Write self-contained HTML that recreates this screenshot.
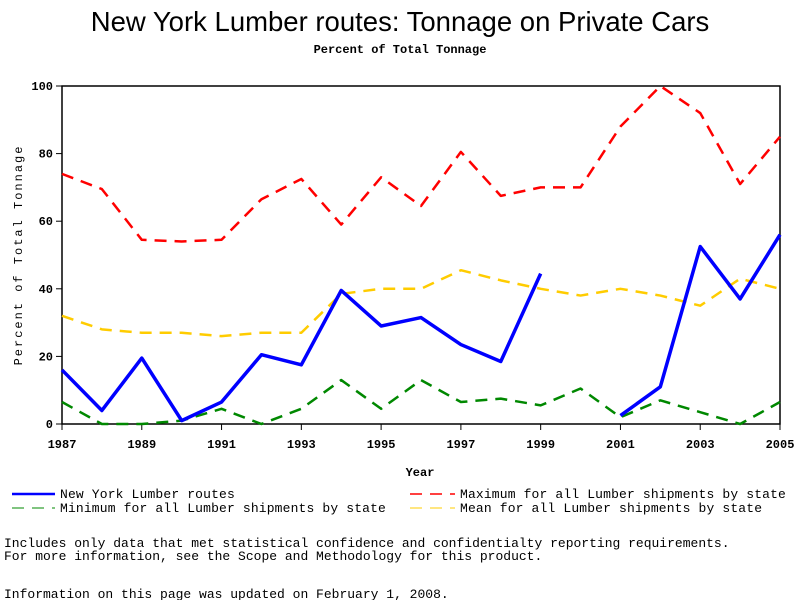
<!DOCTYPE html>
<html><head><meta charset="utf-8"><style>
body{margin:0;background:#fff;}
svg{display:block;}
text{font-family:"Liberation Mono",monospace;}
</style></head><body>
<svg id="chart" width="800" height="600" xmlns="http://www.w3.org/2000/svg">
<text x="400" y="31" text-anchor="middle" font-size="27.5" style="font-family:'Liberation Sans',sans-serif">New York Lumber routes: Tonnage on Private Cars</text>
<text x="400" y="53" text-anchor="middle" font-size="12" font-weight="bold">Percent of Total Tonnage</text>
<rect x="62" y="86" width="718" height="338" fill="none" stroke="#000" stroke-width="1.5"/>
<g id="yticks"></g>
<g id="xticks"></g>
<text transform="translate(22,255) rotate(-90)" text-anchor="middle" font-size="12" letter-spacing="2">Percent of Total Tonnage</text>
<text x="420" y="476" text-anchor="middle" font-size="12" font-weight="bold">Year</text>
<g id="series"></g>
<g font-size="13" letter-spacing="0.15">
<line x1="12" y1="494" x2="55" y2="494" stroke="#00f" stroke-width="2.5"/>
<text x="60" y="498">New York Lumber routes</text>
<line x1="12" y1="508" x2="55" y2="508" stroke="#080" stroke-width="1" stroke-dasharray="12,8"/>
<text x="60" y="512">Minimum for all Lumber shipments by state</text>
<line x1="410" y1="494" x2="455" y2="494" stroke="#f00" stroke-width="1.5" stroke-dasharray="12,8"/>
<text x="460" y="498">Maximum for all Lumber shipments by state</text>
<line x1="410" y1="508" x2="455" y2="508" stroke="#fc0" stroke-width="1" stroke-dasharray="12,8"/>
<text x="460" y="512">Mean for all Lumber shipments by state</text>
</g>
<text x="4" y="547" font-size="13">Includes only data that met statistical confidence and confidentialty reporting requirements.</text>
<text x="4" y="560" font-size="13">For more information, see the Scope and Methodology for this product.</text>
<text x="4" y="598" font-size="13">Information on this page was updated on February 1, 2008.</text>
</svg>
<script>
const years=[1987,1988,1989,1990,1991,1992,1993,1994,1995,1996,1997,1998,1999,2000,2001,2002,2003,2004,2005];
const nyValues=[16,4,19.5,1,6.5,20.5,17.5,39.5,29,31.5,23.5,18.5,44.5,null,2.5,11,52.5,37,56];
const maxValues=[74,69.5,54.5,54,54.5,66.5,72.5,59,73,64.5,80.5,67.5,70,70,88,100,92,71,85];
const meanValues=[32,28,27,27,26,27,27,38.5,40,40,45.5,42.5,40,38,40,38,35,43,40];
const minValues=[6.5,0,0,1,4.5,0,4.5,13,4.5,13,6.5,7.5,5.5,10.5,2,7,3.5,0,6.5];
const yTicks=[0,20,40,60,80,100];
const xTickLabels=[1987,1989,1991,1993,1995,1997,1999,2001,2003,2005];
const NS="http://www.w3.org/2000/svg";
const xs=y=>62+(y-1987)*(718/18);
const ys=v=>424-v*3.38;
function mk(tag,attrs,parent){const e=document.createElementNS(NS,tag);for(const k in attrs)e.setAttribute(k,attrs[k]);parent.appendChild(e);return e;}
const yg=document.getElementById('yticks'),xg=document.getElementById('xticks'),sg=document.getElementById('series');
yTicks.forEach(t=>{
 const l=mk('line',{x1:56,x2:62,y1:ys(t),y2:ys(t),stroke:'#000'},yg);
 
 
 const tx=mk('text',{x:53,y:ys(t)+4,'text-anchor':'end','font-size':12,'font-weight':'bold'},yg);
 tx.textContent=t;
 
 
});
xTickLabels.forEach(t=>{
 const l=mk('line',{x1:xs(t),x2:xs(t),y1:424,y2:430,stroke:'#000'},xg);
 
 
 const tx=mk('text',{x:xs(t),y:448,'text-anchor':'middle','font-size':12,'font-weight':'bold'},xg);
 tx.textContent=t;
 
 
});
function draw(vals,color,w,dash,name){
 let segs=[],cur=[];
 vals.forEach((v,i)=>{if(v===null){if(cur.length)segs.push(cur);cur=[];}else cur.push(xs(years[i])+','+ys(v));});
 if(cur.length)segs.push(cur);
 segs.forEach(s=>{
  const p=mk('polyline',{points:s.join(' '),fill:'none',stroke:color,'stroke-width':w,'stroke-linejoin':'round'},sg);
  if(dash)p.setAttribute('stroke-dasharray',dash);
  
  
 });
}
draw(maxValues,'#f00',2.5,'12,8','max-line');
draw(meanValues,'#fc0',2.5,'12,8','mean-line');
draw(minValues,'#080',2.5,'12,8','min-line');
draw(nyValues,'#00f',3.5,null,'ny-line');
</script>
</body></html>
